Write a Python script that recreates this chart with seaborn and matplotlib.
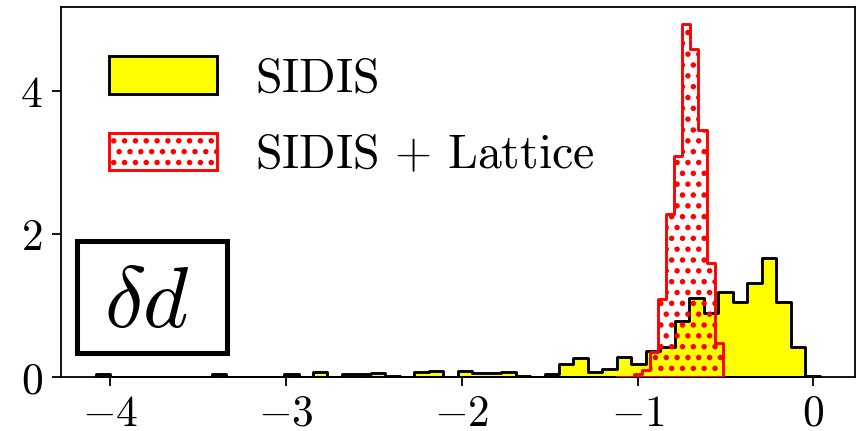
import numpy as np
import pandas as pd
import seaborn as sns
import matplotlib
matplotlib.use("Agg")
import matplotlib.pyplot as plt
from matplotlib.patches import Patch, Rectangle
from matplotlib.ticker import FuncFormatter

# ---------------- data ----------------
sidis_range = (-4.08, 0.035)
sidis_nbins = 50
sidis_density = [
    0.04, 0.0, 0.0, 0.0, 0.0, 0.0, 0.0, 0.0, 0.04, 0.0,
    0.0, 0.0, 0.0, 0.04, 0.0, 0.07, 0.0, 0.04, 0.04, 0.055,
    0.025, 0.01, 0.07, 0.09, 0.01, 0.09, 0.055, 0.055, 0.07, 0.025,
    0.01, 0.04, 0.18, 0.27, 0.08, 0.12, 0.28, 0.19, 0.37, 0.42,
    0.78, 1.11, 0.89, 1.19, 1.05, 1.32, 1.66, 1.05, 0.42, 0.02,
]

lattice_range = (-1.115, -0.515)
lattice_nbins = 13
lattice_density = [0.01, 0.01, 0.046, 0.10, 0.357, 1.087, 2.276, 3.084,
                   4.924, 4.575, 3.447, 1.59, 0.474]

labels = ["SIDIS", "SIDIS + Lattice"]
x_ticks = [-4, -3, -2, -1, 0]
y_ticks = [0, 2, 4]
panel_label = r"$\delta d$"


def centers(rng, n):
    e = np.linspace(rng[0], rng[1], n + 1)
    return 0.5 * (e[:-1] + e[1:])


df_sidis = pd.DataFrame({"x": centers(sidis_range, sidis_nbins), "w": sidis_density})
df_lat = pd.DataFrame({"x": centers(lattice_range, lattice_nbins), "w": lattice_density})

# ---------------- style ----------------
plt.rcParams["mathtext.fontset"] = "cm"
plt.rcParams["font.family"] = ["DejaVu Serif"]
plt.rcParams["hatch.color"] = "red"
plt.rcParams["hatch.linewidth"] = 1.8

DPI = 130
fig = plt.figure(figsize=(859 / DPI, 431 / DPI), dpi=DPI)
ax = fig.add_axes([0.0707, 0.1246, 0.9247, 0.8599])

sns.histplot(data=df_sidis, x="x", weights="w", bins=sidis_nbins, binrange=sidis_range,
             element="step", fill=True, alpha=1, color="yellow", facecolor="yellow",
             edgecolor="black", linewidth=1.6, ax=ax, zorder=2)
sns.histplot(data=df_lat, x="x", weights="w", bins=lattice_nbins, binrange=lattice_range,
             element="step", fill=True, alpha=1, color="red", facecolor="none",
             edgecolor="red", hatch="..", linewidth=1.6, ax=ax, zorder=3)

ax.set_xlim(-4.28, 0.237)
ax.set_ylim(0, 5.17)
ax.set_xticks(x_ticks)
ax.set_yticks(y_ticks)
fmt = FuncFormatter(lambda v, p: r"$%d$" % round(v))
ax.xaxis.set_major_formatter(fmt)
ax.yaxis.set_major_formatter(fmt)
ax.tick_params(axis="both", labelsize=24, length=5, width=1.0, direction="out")
ax.tick_params(axis="y", pad=5)
ax.tick_params(axis="x", pad=3.5)
ax.set_xlabel("")
ax.set_ylabel("")
for s in ax.spines.values():
    s.set_linewidth(1.0)
    s.set_color("black")

# panel label box
ax.add_patch(Rectangle((0.0199, 0.0669), 0.190, 0.3022, transform=ax.transAxes,
                       facecolor="white", edgecolor="black", linewidth=2.8, zorder=5))
ax.text(0.1083, 0.1365, panel_label, transform=ax.transAxes, ha="center", va="baseline",
        fontsize=48, zorder=6)

handles = [
    Patch(facecolor="yellow", edgecolor="black", linewidth=1.6),
    Patch(facecolor="white", edgecolor="red", hatch="..", linewidth=1.6),
]
leg_labels = [r"$\mathrm{SIDIS}$", r"$\mathrm{SIDIS}\,+\,\mathrm{Lattice}$"]
ax.legend(handles, leg_labels, loc="upper left", frameon=False, fontsize=26.5,
          handlelength=2.27, handleheight=0.82, handletextpad=0.8, labelspacing=0.62,
          borderaxespad=0.6)

fig.savefig("out.png", dpi=DPI)
